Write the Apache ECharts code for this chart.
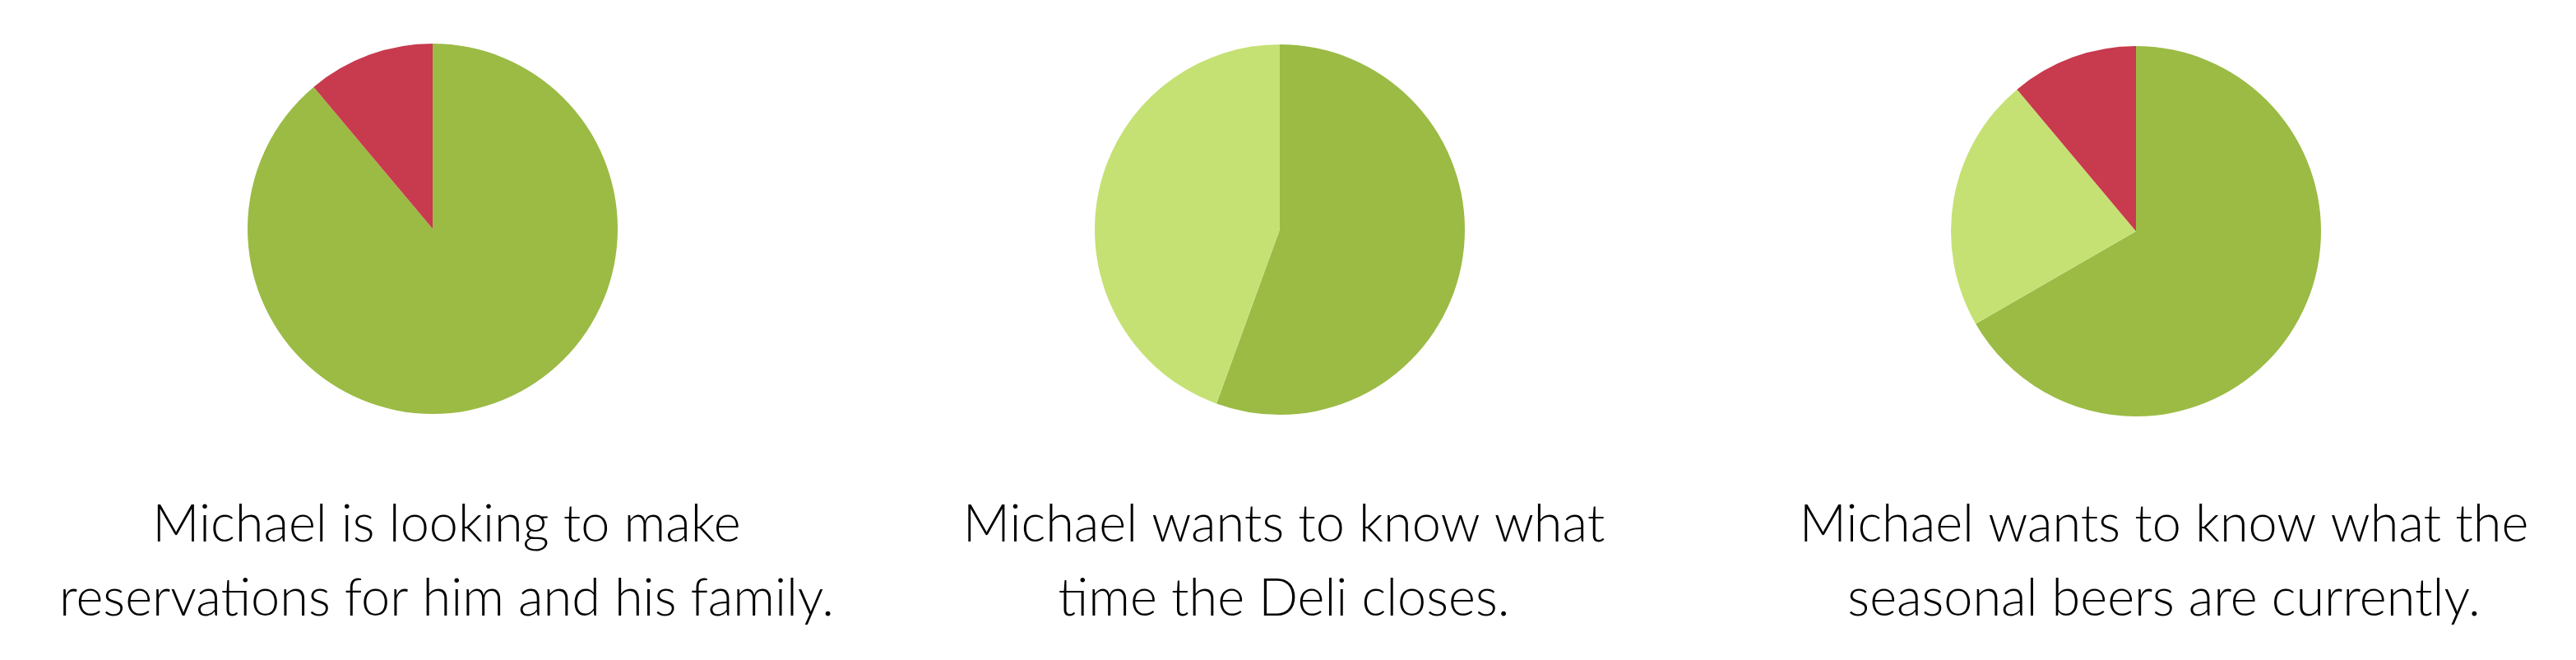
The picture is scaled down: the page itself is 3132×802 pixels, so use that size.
<!DOCTYPE html>
<html>
<head>
<meta charset="utf-8">
<script src="https://cdn.jsdelivr.net/npm/echarts@6.0.0/dist/echarts.min.js"></script>
<style>
  html, body { margin: 0; padding: 0; background: #ffffff; }
  #chart { width: 3132px; height: 802px; }
</style>
</head>
<body>
<div id="chart"></div>
<script>
// Categories (slice meaning) and slice colours
const categories = ["Resolved", "Partially resolved", "Unresolved"];
const sliceColors = ["#9bbb45", "#c5e173", "#c83a4d"];

// Values (in ninths of the circle)
const pie1Values = [8, 0, 1];
const pie2Values = [5, 4, 0];
const pie3Values = [6, 2, 1];

// Captions under each pie
const captions = [
  "Michael is looking to make\nreservations for him and his family.",
  "Michael wants to know what\ntime the Deli closes.",
  "Michael wants to know what the\nseasonal beers are currently."
];

const pieValues = [pie1Values, pie2Values, pie3Values];
const pieCenters = [[526, 278], [1556, 279], [2597, 281]];
const pieRadius = 225;
const captionX = [538, 1556, 2626];

const chart = echarts.init(document.getElementById('chart'), null, { renderer: 'canvas' });

const series = pieValues.map((vals, i) => ({
  type: 'pie',
  center: pieCenters[i],
  radius: pieRadius,
  startAngle: 90,
  clockwise: true,
  silent: true,
  label: { show: false },
  labelLine: { show: false },
  itemStyle: { borderWidth: 0 },
  emphasis: { disabled: true },
  data: categories.map((c, j) => ({
    name: c,
    value: vals[j],
    itemStyle: { color: sliceColors[j] }
  }))
}));

const titles = captions.map((t, i) => ({
  text: t,
  left: captionX[i],
  top: 588,
  textAlign: 'center',
  textStyle: {
    fontFamily: 'Lato',
    fontWeight: 300,
    fontSize: 63,
    lineHeight: 90,
    color: '#000000'
  }
}));

chart.setOption({
  animation: false,
  backgroundColor: '#ffffff',
  title: titles,
  series: series
});
</script>
</body>
</html>
